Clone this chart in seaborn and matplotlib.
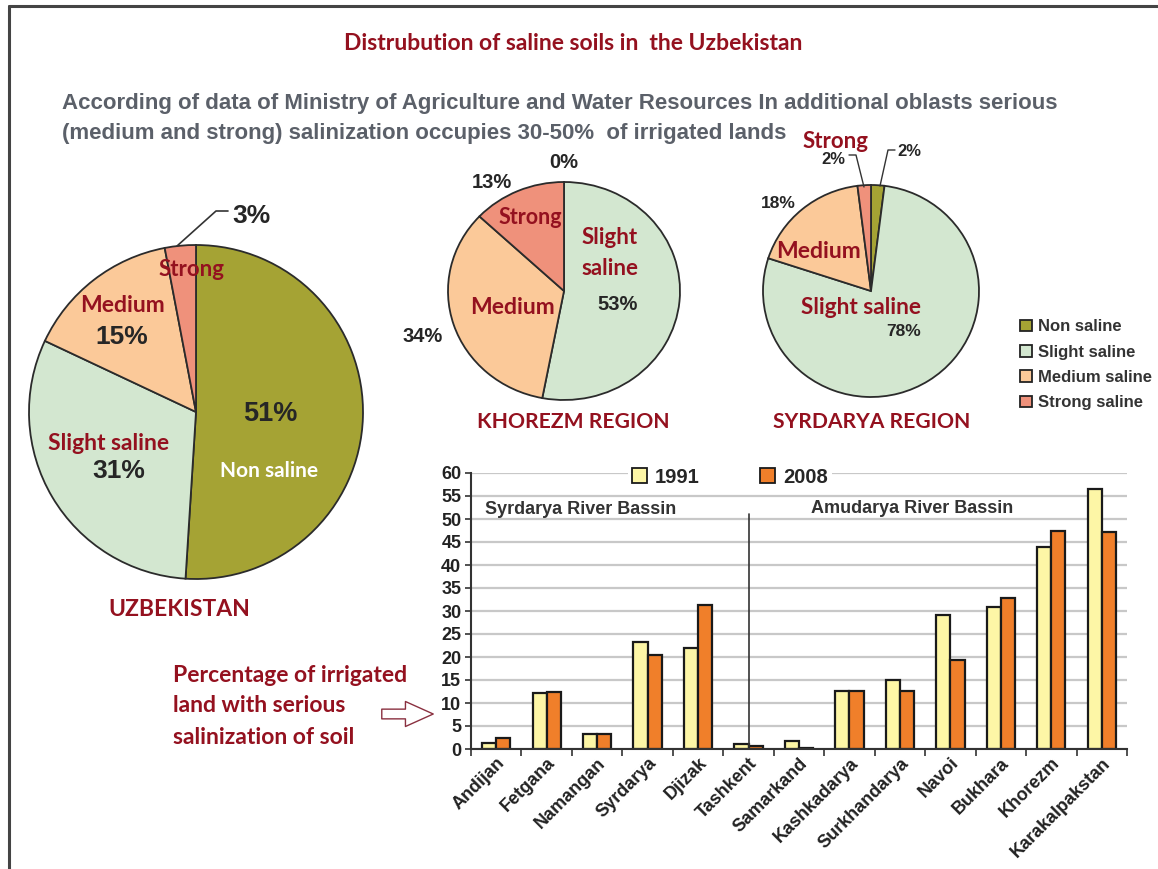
import matplotlib
matplotlib.use('Agg')
import matplotlib.pyplot as plt
import seaborn as sns
import pandas as pd
from matplotlib.patches import Patch, FancyArrowPatch
from matplotlib.lines import Line2D

# ---------------- data ----------------
classes = ['Non saline', 'Slight saline', 'Medium saline', 'Strong saline']
uzb_share = [51, 31, 15, 3]
khorezm_share = [0, 53, 34, 13]
syrdarya_share = [2, 78, 18, 2]

regions = ['Andijan', 'Fetgana', 'Namangan', 'Syrdarya', 'Djizak', 'Tashkent',
           'Samarkand', 'Kashkadarya', 'Surkhandarya', 'Navoi', 'Bukhara',
           'Khorezm', 'Karakalpakstan']
years = ['1991', '2008']
val_1991 = [1.3, 12.2, 3.2, 23.2, 22.0, 1.0, 1.7, 12.6, 15.0, 29.2, 30.9, 43.9, 56.5]
val_2008 = [2.4, 12.3, 3.2, 20.5, 31.2, 0.6, 0.3, 12.6, 12.6, 19.4, 32.8, 47.4, 47.2]

# ---------------- style ----------------
W, H = 1158, 869
sns.set_theme(style='white')
plt.rcParams['font.family'] = ['Liberation Sans', 'DejaVu Sans']
LATO = ['Lato', 'DejaVu Sans']
ARIAL = ['Liberation Sans', 'DejaVu Sans']
DARKRED = '#94111f'
GRAYTXT = '#5b6069'
PCT = '#262626'
pie_colors = ['#a5a334', '#d3e7d0', '#fbc999', '#ef917b']
bar_colors = {'1991': '#fdf6a6', '2008': '#f07f2a'}

fig = plt.figure(figsize=(W / 100, H / 100), dpi=100)
fig.patch.set_facecolor('white')


def t(x, y, s, **kw):
    kw.setdefault('ha', 'center')
    kw.setdefault('va', 'center')
    fig.text(x / W, 1 - y / H, s, **kw)


def line(xs, ys, **kw):
    kw.setdefault('color', '#333333')
    kw.setdefault('lw', 1.2)
    fig.add_artist(Line2D([x / W for x in xs], [1 - y / H for y in ys],
                          transform=fig.transFigure, **kw))


def draw_pie(cx, cy, rx, ry, shares):
    ax = fig.add_axes([(cx - rx) / W, 1 - (cy + ry) / H, 2 * rx / W, 2 * ry / H])
    ax.pie(shares, colors=pie_colors, startangle=90, counterclock=False,
           wedgeprops=dict(edgecolor='#2b2b2b', linewidth=1.3))
    ax.set_xlim(-1, 1)
    ax.set_ylim(-1, 1)
    ax.set_aspect('auto')
    for p in ax.patches:
        p.set_clip_on(False)
    ax.axis('off')
    return ax


# frame lines
line([9, W], [6, 6], lw=2.2, color='#444444')
line([9, 9], [6, H], lw=2.2, color='#444444')

# titles
t(573, 44, 'Distrubution of saline soils in  the Uzbekistan', color=DARKRED,
  fontsize=16.5, fontweight='bold', family=LATO)
t(62, 104, 'According of data of Ministry of Agriculture and Water Resources In additional oblasts serious',
  ha='left', color=GRAYTXT, fontsize=16, fontweight='bold', family=ARIAL)
t(62, 133, '(medium and strong) salinization occupies 30-50%  of irrigated lands',
  ha='left', color=GRAYTXT, fontsize=16, fontweight='bold', family=ARIAL)

# ---------------- Uzbekistan pie ----------------
draw_pie(196, 412, 167, 167, uzb_share)
t(251, 216, f'{uzb_share[3]}%', color=PCT, fontsize=19, fontweight='bold', family=ARIAL)
line([177, 216, 228], [246, 211, 211], lw=1.2)
t(192, 270, 'Strong', color=DARKRED, fontsize=16, fontweight='bold', family=LATO)
t(122, 305, 'Medium', color=DARKRED, fontsize=16.5, fontweight='bold', family=LATO)
t(122, 337, f'{uzb_share[2]}%', color=PCT, fontsize=19, fontweight='bold', family=ARIAL)
t(270, 414, f'{uzb_share[0]}%', color=PCT, fontsize=19.5, fontweight='bold', family=ARIAL)
t(269, 471, 'Non saline', color='white', fontsize=15, fontweight='bold', family=LATO)
t(109, 443, 'Slight saline', color=DARKRED, fontsize=16.5, fontweight='bold', family=LATO)
t(119, 471, f'{uzb_share[1]}%', color=PCT, fontsize=19, fontweight='bold', family=ARIAL)
t(179, 609, 'UZBEKISTAN', color=DARKRED, fontsize=16.5, fontweight='bold', family=LATO)

# ---------------- Khorezm pie ----------------
draw_pie(564, 291, 116, 109, khorezm_share)
t(564, 162, f'{khorezm_share[0]}%', color=PCT, fontsize=14.5, fontweight='bold', family=ARIAL)
t(492, 183, f'{khorezm_share[3]}%', color=PCT, fontsize=14.5, fontweight='bold', family=ARIAL)
t(530, 218, 'Strong', color=DARKRED, fontsize=15.5, fontweight='bold', family=LATO)
t(610, 237, 'Slight', color=DARKRED, fontsize=16, fontweight='bold', family=LATO)
t(610, 268, 'saline', color=DARKRED, fontsize=16, fontweight='bold', family=LATO)
t(618, 304, f'{khorezm_share[1]}%', color=PCT, fontsize=14.5, fontweight='bold', family=ARIAL)
t(513, 308, 'Medium', color=DARKRED, fontsize=16.5, fontweight='bold', family=LATO)
t(423, 337, f'{khorezm_share[2]}%', color=PCT, fontsize=14.5, fontweight='bold', family=ARIAL)
t(573, 422, 'KHOREZM REGION', color=DARKRED, fontsize=15.2, fontweight='bold', family=LATO)

# ---------------- Syrdarya pie ----------------
draw_pie(871, 291, 108, 106, syrdarya_share)
t(836, 142, 'Strong', color=DARKRED, fontsize=16, fontweight='bold', family=LATO)
t(833, 159, f'{syrdarya_share[3]}%', color=PCT, fontsize=12, fontweight='bold', family=ARIAL)
line([849, 856, 864], [155, 155, 187], lw=1.0)
t(909, 152, f'{syrdarya_share[0]}%', color=PCT, fontsize=12, fontweight='bold', family=ARIAL)
line([895, 888, 880], [150, 150, 186], lw=1.0)
t(778, 204, f'{syrdarya_share[2]}%', color=PCT, fontsize=12.5, fontweight='bold', family=ARIAL)
t(818, 251, 'Medium', color=DARKRED, fontsize=16.5, fontweight='bold', family=LATO)
t(861, 308, 'Slight saline', color=DARKRED, fontsize=16.3, fontweight='bold', family=LATO)
t(904, 331, f'{syrdarya_share[1]}%', color=PCT, fontsize=12.5, fontweight='bold', family=ARIAL)
t(872, 422, 'SYRDARYA REGION', color=DARKRED, fontsize=15.2, fontweight='bold', family=LATO)

# pie legend
handles = [Patch(facecolor=c, edgecolor='#222222', linewidth=1.3, label=l)
           for c, l in zip(pie_colors, classes)]
fig.legend(handles=handles, loc='upper left', bbox_to_anchor=(1012 / W, 1 - 311 / H),
           frameon=False, prop=dict(family=ARIAL, weight='bold', size=12),
           labelcolor='#333333', handlelength=0.7, handleheight=0.7,
           labelspacing=0.62, handletextpad=0.35, borderpad=0)

# ---------------- bar chart ----------------
axb = fig.add_axes([471 / W, 1 - 749 / H, (1127 - 471) / W, (749 - 473) / H])
df = pd.DataFrame({'Region': regions * 2,
                   'Year': [years[0]] * len(regions) + [years[1]] * len(regions),
                   'Value': val_1991 + val_2008})
sns.barplot(data=df, x='Region', y='Value', hue='Year', palette=bar_colors,
            width=0.56, edgecolor='#1a1a1a', linewidth=1.6, errorbar=None,
            saturation=1, ax=axb)
axb.set_axisbelow(True)
axb.yaxis.grid(True, color='#c8c8c8', lw=1.6)
axb.xaxis.grid(False)
axb.set_ylim(0, 60)
axb.set_xlim(-0.5, len(regions) - 0.5)
axb.set_yticks(range(0, 61, 5))
axb.set_xlabel('')
axb.set_ylabel('')
for s in ['top', 'right']:
    axb.spines[s].set_visible(False)
for s in ['left', 'bottom']:
    axb.spines[s].set_color('#333333')
    axb.spines[s].set_linewidth(1.5)
axb.tick_params(axis='y', left=True, length=4, width=1.2, color='#333333',
                labelsize=13, pad=3, labelcolor='#222222')
axb.tick_params(axis='x', which='major', length=0, labelsize=13, pad=4,
                labelcolor='#222222')
axb.set_xticks([i - 0.5 for i in range(len(regions) + 1)], minor=True)
axb.tick_params(axis='x', which='minor', bottom=True, length=5, width=1.2,
                color='#333333')
for lab in axb.get_yticklabels():
    lab.set_fontweight('bold')
for lab in axb.get_xticklabels():
    lab.set_fontweight('bold')
    lab.set_rotation(45)
    lab.set_ha('right')
    lab.set_rotation_mode('anchor')

leg = axb.legend(ncol=2, loc='center', bbox_to_anchor=(0.395, 0.985),
                 frameon=True, facecolor='white', edgecolor='none', framealpha=1,
                 prop=dict(family=ARIAL, weight='bold', size=14.5),
                 handlelength=0.75, handleheight=0.75, columnspacing=3.0,
                 handletextpad=0.4, borderpad=0.2)
for h in leg.legend_handles:
    h.set_edgecolor('#1a1a1a')
    h.set_linewidth(1.3)

sep = regions.index('Tashkent')
axb.plot([sep, sep], [0, 51], color='#333333', lw=1.2, zorder=4)
axb.text(0.021, 0.866, 'Syrdarya River Bassin', transform=axb.transAxes,
         ha='left', va='center', fontsize=13, fontweight='bold', color='#333333')
axb.text(0.518, 0.872, 'Amudarya River Bassin', transform=axb.transAxes,
         ha='left', va='center', fontsize=13, fontweight='bold', color='#333333')

# annotation with hollow arrow
for yy, txt in zip([676, 706, 737], ['Percentage of irrigated', 'land with serious',
                                      'salinization of soil']):
    t(173, yy, txt, ha='left', color=DARKRED, fontsize=16.5, fontweight='bold',
      family=LATO)
arrow = FancyArrowPatch((379 / W, 1 - 714 / H), (436 / W, 1 - 714 / H),
                        transform=fig.transFigure,
                        arrowstyle='simple,head_length=20,head_width=18,tail_width=7',
                        mutation_scale=1, facecolor='white', edgecolor='#8a3040',
                        linewidth=1.0)
fig.patches.append(arrow)

fig.savefig('out.png', dpi=100, facecolor='white')
